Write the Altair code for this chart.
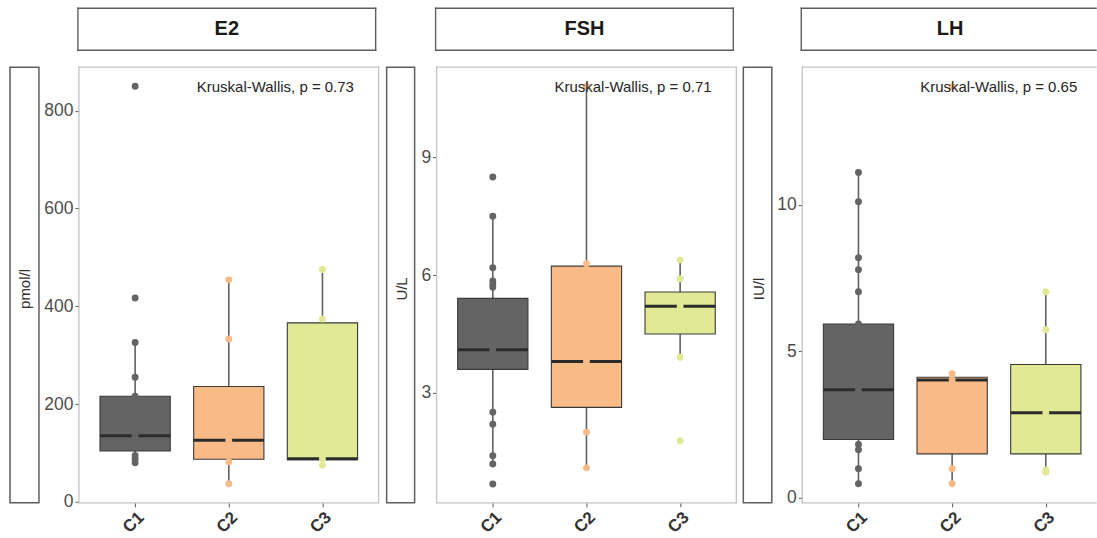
import json
import altair as alt
import pandas as pd

groups = ["C1", "C2", "C3"]
fills = ["#646464", "#F8BB88", "#E1E995"]

# E2 (pmol/l)
e2_c1 = [850, 417, 326, 255, 216, 135, 95, 88, 80]
e2_c2 = [454, 333, 126, 82, 37]
e2_c3 = [475, 374, 88, 75]
e2_lower = [80, 37, 75]
e2_q1 = [104, 87, 86]
e2_median = [135, 126, 88]
e2_q3 = [216, 236, 366]
e2_upper = [326, 454, 475]

# FSH (U/L)
fsh_c1 = [8.50, 7.50, 6.19, 5.85, 5.76, 5.69, 4.10, 2.51, 2.20, 1.40, 1.19, 0.68]
fsh_c2 = [10.81, 6.29, 3.80, 2.00, 1.09]
fsh_c3 = [6.39, 5.91, 5.21, 3.91, 1.78]
fsh_lower = [1.19, 1.09, 3.91]
fsh_q1 = [3.60, 2.63, 4.50]
fsh_median = [4.10, 3.80, 5.21]
fsh_q3 = [5.41, 6.23, 5.57]
fsh_upper = [7.50, 10.81, 6.39]

# LH (IU/l)
lh_c1 = [11.10, 10.10, 8.19, 7.78, 7.03, 5.93, 3.69, 1.82, 1.64, 0.99, 0.48]
lh_c2 = [14.02, 4.23, 4.02, 0.99, 0.48]
lh_c3 = [7.03, 5.73, 2.90, 0.95, 0.87]
lh_lower = [0.48, 0.48, 0.87]
lh_q1 = [1.99, 1.50, 1.50]
lh_median = [3.69, 4.02, 2.90]
lh_q3 = [5.93, 4.11, 4.55]
lh_upper = [11.10, 4.23, 7.03]

panel_names = ["E2", "FSH", "LH"]
units = ["pmol/l", "U/L", "IU/l"]
p_values = ["0.73", "0.71", "0.65"]

H = 436
HALF = 0.375
FONT = "Liberation Sans"


def point_frame(lists):
    rows = []
    for i, (g, vals) in enumerate(zip(groups, lists)):
        for v in vals:
            rows.append({"group": g, "pos": i + 1, "value": v})
    return pd.DataFrame(rows)


def box_frame(lower, q1, med, q3, upper):
    return pd.DataFrame({
        "group": groups, "pos": [1, 2, 3],
        "lower": lower, "q1": q1, "median": med, "q3": q3, "upper": upper,
    })


def one_row(**kw):
    return alt.Data(values=[dict(k=0, **kw)])


def outline(x0, x1, y0, y1, color, width, open_right=False):
    edges = [(x0, x0, y0, y1), (x0, x1, y0, y0), (x0, x1, y1, y1)]
    if not open_right:
        edges.append((x1, x1, y0, y1))
    return [
        alt.Chart(one_row()).mark_rule(color=color, strokeWidth=width, strokeCap="square").encode(
            x=alt.value(a), x2=alt.value(b), y=alt.value(c), y2=alt.value(d)
        )
        for a, b, c, d in edges
    ]


def panel(name, pts, box, y_domain, y_ticks, p_val, width, x_max, open_right=False):
    xscale = alt.Scale(domain=[0.4, x_max], nice=False, zero=False)
    yscale = alt.Scale(domain=y_domain, nice=False, zero=False)
    x_axis = alt.Axis(
        values=[1, 2, 3], labelExpr=f"{json.dumps(groups)}[datum.value - 1]",
        title=None, grid=False, domain=False, tickSize=4, tickColor="#555555",
        labelAngle=315, labelAlign="right", labelBaseline="top", labelFont=FONT,
        labelFontSize=17, labelFontWeight="bold", labelColor="#333333", labelPadding=2,
    )
    y_axis = alt.Axis(
        values=y_ticks, title=None, grid=False, domain=False, tickSize=4,
        tickColor="#555555", labelFont=FONT, labelFontSize=17.5, labelColor="#4d4d4d",
        labelPadding=2,
    )

    def X(field):
        return alt.X(field, scale=xscale, axis=x_axis, title=None)

    def Y(field):
        return alt.Y(field, scale=yscale, axis=y_axis, title=None)

    color = alt.Color("group:N", scale=alt.Scale(domain=groups, range=fills), legend=None)

    base = alt.Chart(box)
    upper_whisker = base.mark_rule(color="#606060", strokeWidth=1.6).encode(
        x=X("pos:Q"), y=Y("q3:Q"), y2="upper:Q"
    )
    lower_whisker = base.mark_rule(color="#606060", strokeWidth=1.6).encode(
        x=X("pos:Q"), y=Y("lower:Q"), y2="q1:Q"
    )
    edged = base.transform_calculate(xl=f"datum.pos - {HALF}", xr=f"datum.pos + {HALF}")
    boxes = edged.mark_bar(stroke="#3a3a3a", strokeWidth=1.1, opacity=1).encode(
        x=X("xl:Q"), x2="xr:Q", y=Y("q1:Q"), y2="q3:Q", color=color,
    )
    medians = edged.mark_rule(color="#2b2b2b", strokeWidth=3).encode(
        x=X("xl:Q"), x2="xr:Q", y=Y("median:Q")
    )
    dots = alt.Chart(pts).mark_circle(size=48, opacity=1).encode(
        x=X("pos:Q"), y=Y("value:Q"), color=color
    )
    border = outline(0, width, 0, H, "#c4c4c4", 1.3, open_right)

    strip_x1 = width if open_right else 297
    strip_bg = alt.Chart(one_row()).mark_rect(fill="white", strokeWidth=0).encode(
        x=alt.value(-1), x2=alt.value(strip_x1), y=alt.value(-59), y2=alt.value(-17)
    )
    strip_lines = outline(-1, strip_x1, -59, -17, "#5e5e5e", 1.4, open_right)
    strip_text = alt.Chart(one_row(name=name)).mark_text(
        font=FONT, fontSize=20, fontWeight="bold", color="#1a1a1a"
    ).encode(x=alt.value(148), y=alt.value(-38), text="name:N")
    stat_text = alt.Chart(one_row(label=f"Kruskal-Wallis, p = {p_val}")).mark_text(
        font=FONT, fontSize=15, color="#262626", align="left", baseline="middle"
    ).encode(x=alt.value(118), y=alt.value(20), text="label:N")

    return alt.layer(
        upper_whisker, lower_whisker, boxes, medians, dots, *border,
        strip_bg, *strip_lines, strip_text, stat_text,
    ).properties(width=width, height=H)


def unit_box(unit, width, x0, x1):
    rect = alt.Chart(one_row()).mark_rect(fill="white", stroke="#5e5e5e", strokeWidth=1.5).encode(
        x=alt.value(x0), x2=alt.value(x1), y=alt.value(0), y2=alt.value(H)
    )
    text = alt.Chart(one_row(unit=unit)).mark_text(
        font=FONT, fontSize=15, color="#333333", angle=270
    ).encode(x=alt.value((x0 + x1) / 2 + 1), y=alt.value(222), text="unit:N")
    return alt.layer(rect, text).properties(width=width, height=H)


p1 = panel("E2", point_frame([e2_c1, e2_c2, e2_c3]),
           box_frame(e2_lower, e2_q1, e2_median, e2_q3, e2_upper),
           [-2, 889], [0, 200, 400, 600, 800], p_values[0], 300, 3.6)
p2 = panel("FSH", point_frame([fsh_c1, fsh_c2, fsh_c3]),
           box_frame(fsh_lower, fsh_q1, fsh_median, fsh_q3, fsh_upper),
           [0.2, 11.3], [3, 6, 9], p_values[1], 300, 3.6)
p3 = panel("LH", point_frame([lh_c1, lh_c2, lh_c3]),
           box_frame(lh_lower, lh_q1, lh_median, lh_q3, lh_upper),
           [-0.17, 14.69], [0, 5, 10], p_values[2], 294, 0.4 + 294 / 93.75,
           open_right=True)

u1 = unit_box(units[0], 69, 0, 29)
u2 = unit_box(units[1], 58, 8, 36)
u3 = unit_box(units[2], 66, 7, 35.5)

chart = alt.hconcat(
    u1, p1, u2, p2, u3, p3, spacing=0, bounds="flush"
).resolve_scale(
    x="independent", y="independent"
).properties(
    padding={"left": 9, "top": 7, "right": 0, "bottom": 0}, background="white"
).configure_view(stroke=None)

chart.save("out.html", embed_options={"renderer": "svg", "actions": False})
